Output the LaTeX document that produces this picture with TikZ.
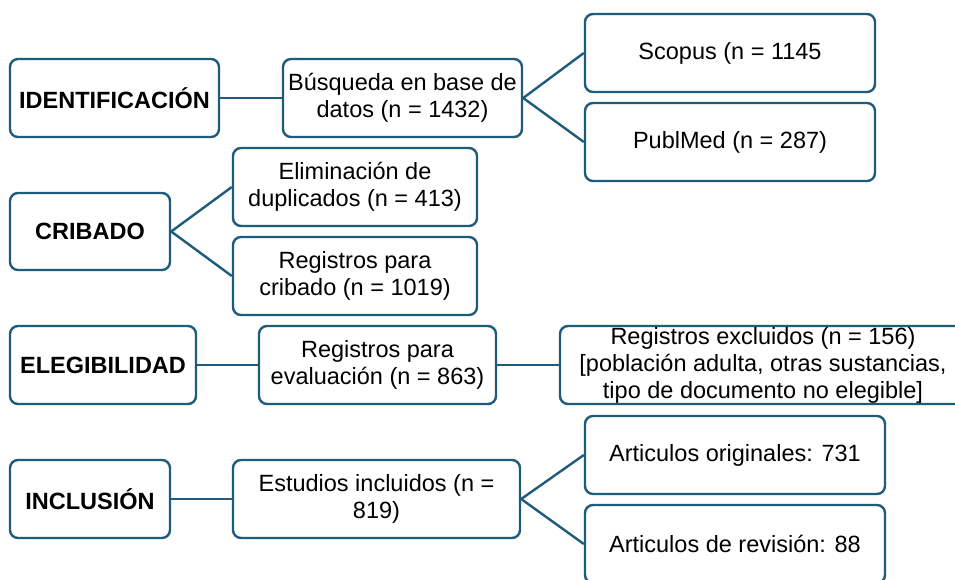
\documentclass[tikz,border=0pt]{standalone}
\usepackage{fontspec}
\setmainfont{Liberation Sans}
\definecolor{edge}{HTML}{1F5B7A}
\begin{document}
\begin{tikzpicture}[x=1pt,y=-1pt,
  box/.style={draw=edge,line width=2.4pt,rounded corners=8pt,fill=white,
    align=center,inner sep=0pt,minimum height=78pt,
    font=\fontsize{23.5}{27}\selectfont},
  stage/.style={box,font=\fontsize{23.5}{27}\selectfont\bfseries},
  link/.style={draw=edge,line width=2.4pt}]
\clip (0,0) rectangle (955,579);
\fill[white] (0,0) rectangle (955,579);
\node[stage,minimum width=209pt] (id) at (114.5,98) {IDENTIFICACIÓN};
\node[box,minimum width=239pt] (bus) at (402.5,98) {Búsqueda en base de\\datos (n = 1432)};
\node[box,minimum width=290pt] (sco) at (730,53) {Scopus (n = 1145};
\node[box,minimum width=290pt] (pub) at (730,142) {PublMed (n = 287)};
\node[stage,minimum width=160pt,minimum height=77pt] (crib) at (90,231.5) {CRIBADO};
\node[box,minimum width=244pt] (elim) at (355,187) {Eliminación de\\duplicados (n = 413)};
\node[box,minimum width=244pt] (regc) at (355,276) {Registros para\\cribado (n = 1019)};
\node[stage,minimum width=186pt] (eleg) at (103,365) {ELEGIBILIDAD};
\node[box,minimum width=237pt] (rege) at (377.5,365) {Registros para\\evaluación (n = 863)};
\node[box,minimum width=406pt] (excl) at (763,365) {Registros excluidos (n = 156)\\{}[población adulta, otras sustancias,\\tipo de documento no elegible]};
\node[stage,minimum width=160pt] (incl) at (90,499) {INCLUSIÓN};
\node[box,minimum width=287pt] (est) at (376.5,499) {Estudios incluidos (n =\\819)};
\node[box,minimum width=300pt] (orig) at (735,455) {Articulos originales: 731};
\node[box,minimum width=300pt] (rev) at (735,544) {Articulos de revisión: 88};
\draw[link] (id.east) -- (bus.west);
\draw[link] (bus.east) -- (sco.west);
\draw[link] (bus.east) -- (pub.west);
\draw[link] (crib.east) -- (elim.west);
\draw[link] (crib.east) -- (regc.west);
\draw[link] (eleg.east) -- (rege.west);
\draw[link] (rege.east) -- (excl.west);
\draw[link] (incl.east) -- (est.west);
\draw[link] (est.east) -- (orig.west);
\draw[link] (est.east) -- (rev.west);
\end{tikzpicture}
\end{document}
